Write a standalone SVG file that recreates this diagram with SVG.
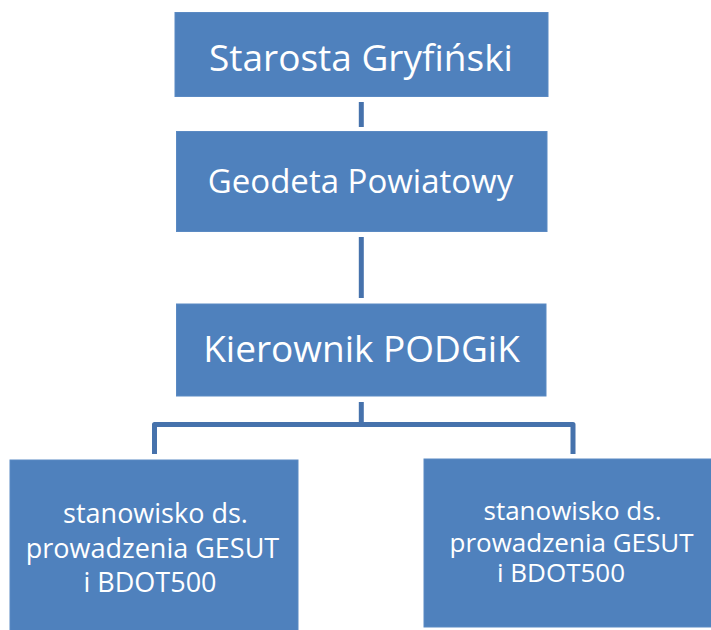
<svg xmlns="http://www.w3.org/2000/svg" width="711" height="630" viewBox="0 0 711 630">
<style>
.box{fill:#4F81BD;stroke:#5B8AC3;stroke-width:1}
.t{fill:#FFFFFF;font-family:"Open Sans","Noto Sans","Liberation Sans",sans-serif;text-anchor:middle}
.c{fill:none;stroke:#4672AC;stroke-width:5;stroke-linejoin:round}
</style>
<rect width="711" height="630" fill="#FFFFFF"/>
<g id="connectors">
<path class="c" d="M361.3 102 V127"/>
<path class="c" d="M361.3 237 V298"/>
<path class="c" d="M361.3 402 V424.5"/>
<path class="c" d="M154.5 454 V424.5 H573 V454"/>
</g>
<g id="starosta">
<rect class="box" x="175" y="12.5" width="373" height="84"/>
<text class="t" x="361" y="71" font-size="37">Starosta Gryfiński</text>
</g>
<g id="geodeta">
<rect class="box" x="176.5" y="131.5" width="370.5" height="100"/>
<text class="t" x="360.5" y="193" font-size="33">Geodeta Powiatowy</text>
</g>
<g id="kierownik">
<rect class="box" x="176.5" y="304" width="369.5" height="92"/>
<text class="t" x="361.5" y="362" font-size="37">Kierownik PODGiK</text>
</g>
<g id="stanowisko1">
<rect class="box" x="10" y="460" width="288" height="172"/>
<text class="t" font-size="27"><tspan x="155.5" y="523">stanowisko ds.</tspan><tspan x="152.5" y="558">prowadzenia GESUT</tspan><tspan x="150" y="592">i BDOT500</tspan></text>
</g>
<g id="stanowisko2">
<rect class="box" x="424" y="459" width="290" height="168"/>
<text class="t" font-size="26"><tspan x="572.5" y="520">stanowisko ds.</tspan><tspan x="571.5" y="552">prowadzenia GESUT</tspan><tspan x="561" y="582">i BDOT500</tspan></text>
</g>
</svg>
